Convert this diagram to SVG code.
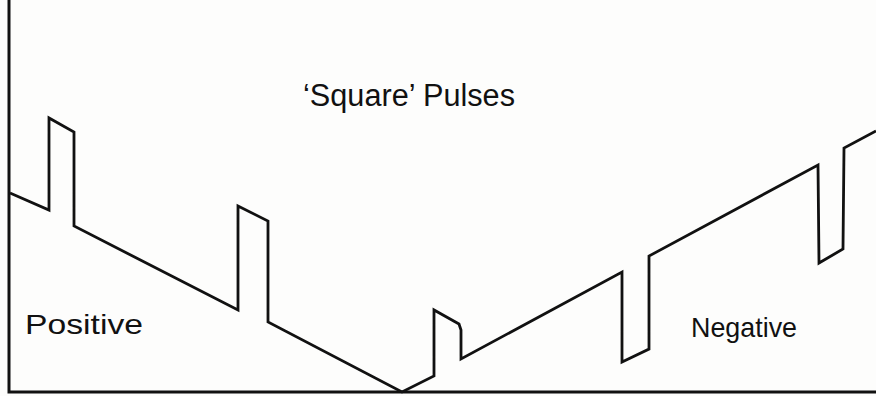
<svg xmlns="http://www.w3.org/2000/svg" width="876" height="396" viewBox="0 0 876 396">
<style>
.ax{fill:none;stroke:#111;stroke-width:3;stroke-linecap:square}
.wave{fill:none;stroke:#111;stroke-width:2.8;stroke-linejoin:miter}
.lbl{font-family:"Liberation Sans",Arial,sans-serif;fill:#111}
</style>
<rect width="876" height="396" fill="#fdfdfc"/>
<g id="axes">
<path class="ax" d="M9,1 V392 H876"/>
</g>
<g id="waveform">
<path class="wave" d="M10,193 L49,210 L49,118 L74,132 L74,226 L238,310 L238,206 L268,221 L268,322 L402,392 L434,376 L434,310 L459,324 L461,330 L461,359 L622,272 L622,362 L649,349 L649,256 L818,165 L819,263 L843,249 L844,148 L876,131"/>
</g>
<g id="labels">
<text class="lbl" x="303" y="106" font-size="31" textLength="212" lengthAdjust="spacingAndGlyphs">‘Square’ Pulses</text>
<text class="lbl" x="25" y="334" font-size="28" textLength="118" lengthAdjust="spacingAndGlyphs">Positive</text>
<text class="lbl" x="691" y="337" font-size="28" textLength="106" lengthAdjust="spacingAndGlyphs">Negative</text>
</g>
</svg>
